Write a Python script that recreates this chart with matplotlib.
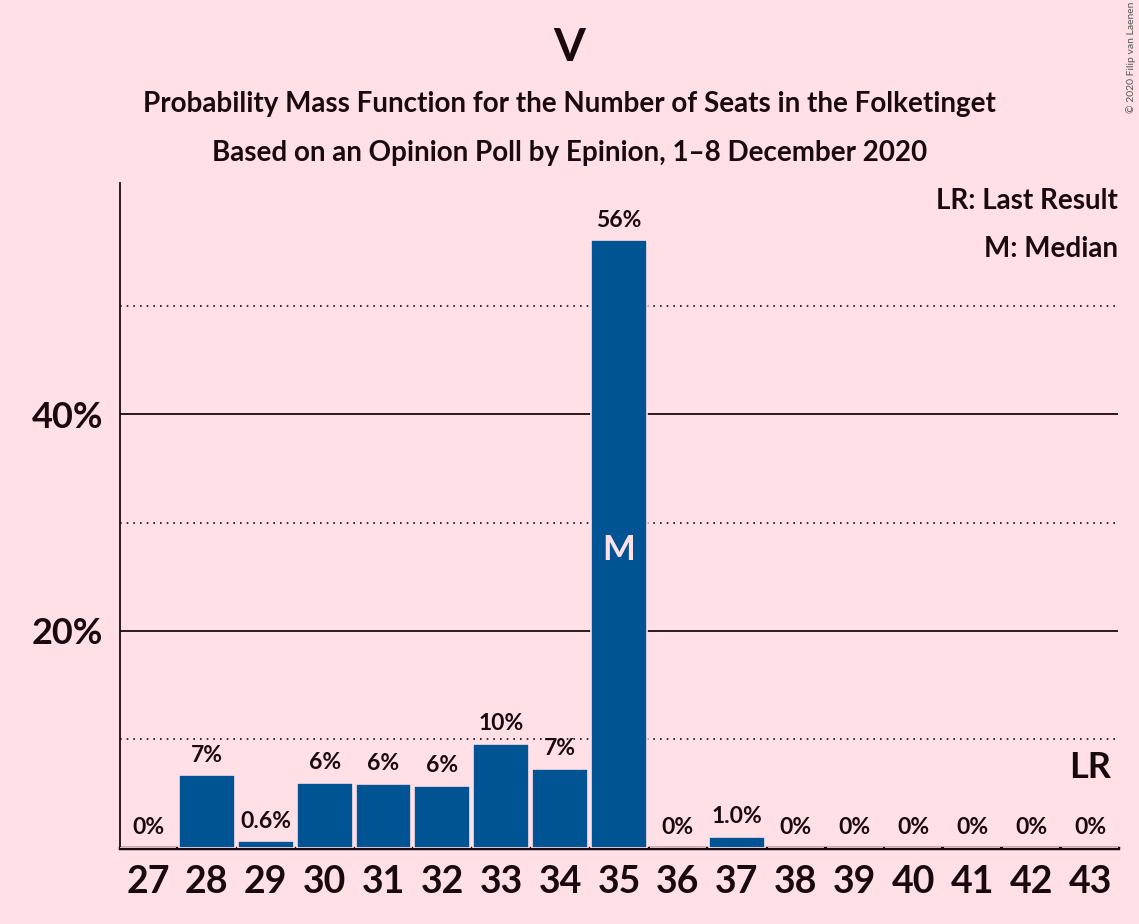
import numpy as np
import matplotlib
matplotlib.use('Agg')
from matplotlib import pyplot as plt

# data
seats = [27, 28, 29, 30, 31, 32, 33, 34, 35, 36, 37, 38, 39, 40, 41, 42, 43]
probs = [0.0, 6.7, 0.6, 6.0, 5.9, 5.7, 9.6, 7.3, 56.0, 0.0, 1.0, 0.0, 0.0, 0.0, 0.0, 0.0, 0.0]
labels = ["0%", "7%", "0.6%", "6%", "6%", "6%", "10%", "7%", "56%", "0%", "1.0%",
          "0%", "0%", "0%", "0%", "0%", "0%"]
median_seat = 35
last_result_seat = 43

bg = "#FFE0E6"
bar_col = "#005494"
txt = "#1A0A0F"

plt.rcParams['font.family'] = ['Lato', 'DejaVu Sans']

fig = plt.figure(figsize=(11.39, 9.24), dpi=100, facecolor=bg)
ax = fig.add_axes([0.1054, 0.0823, 0.8762, 0.7197])
ax.set_facecolor(bg)

ax.bar(seats, probs, width=0.95, color=bar_col, edgecolor=bg, linewidth=1.2, zorder=3)

for s, p, l in zip(seats, probs, labels):
    ax.text(s, p + 0.9, l, ha='center', va='bottom', fontsize=16.5, fontweight='bold',
            color=txt, zorder=4)

ax.text(median_seat, 27.5, "M", ha='center', va='center', fontsize=25, fontweight='bold',
        color="#FFE0E6", zorder=5)
ax.text(last_result_seat, 7.4, "LR", ha='center', va='center', fontsize=26,
        fontweight='bold', color=txt, zorder=5)

for y in [10, 30, 50]:
    ax.axhline(y, color=txt, linestyle=(0, (1, 3)), linewidth=1.2, zorder=1)
for y in [20, 40]:
    ax.axhline(y, color=txt, linestyle='-', linewidth=1.3, zorder=1)

ax.set_xlim(26.525, 43.475)
ax.set_ylim(0, 61.3)
ax.set_xticks(seats)
ax.set_xticklabels([str(s) for s in seats], fontsize=27, fontweight='bold', color=txt)
ax.set_yticks([20, 40])
ax.set_yticklabels(["20%", "40%"], fontsize=26, fontweight='bold', color=txt)
ax.tick_params(axis='both', length=0, pad=12)

for side in ['top', 'right']:
    ax.spines[side].set_visible(False)
ax.spines['left'].set_color(txt)
ax.spines['left'].set_linewidth(1.3)
ax.spines['bottom'].set_color(txt)
ax.spines['bottom'].set_linewidth(2.5)

fig.text(0.5, 0.948, "V", ha='center', va='center', fontsize=33, fontweight='bold', color=txt)
fig.text(0.5, 0.887, "Probability Mass Function for the Number of Seats in the Folketinget",
         ha='center', va='center', fontsize=20, fontweight='bold', color=txt)
fig.text(0.5, 0.834, "Based on an Opinion Poll by Epinion, 1\u20138 December 2020",
         ha='center', va='center', fontsize=20, fontweight='bold', color=txt)
fig.text(0.9816, 0.783, "LR: Last Result", ha='right', va='center', fontsize=20,
         fontweight='bold', color=txt)
fig.text(0.9816, 0.731, "M: Median", ha='right', va='center', fontsize=20,
         fontweight='bold', color=txt)
fig.text(0.993, 0.938, "\u00a9 2020 Filip van Laenen", ha='center', va='center', fontsize=7.5,
         rotation=90, color="#555555")

plt.savefig("out.png", dpi=100, facecolor=bg)
